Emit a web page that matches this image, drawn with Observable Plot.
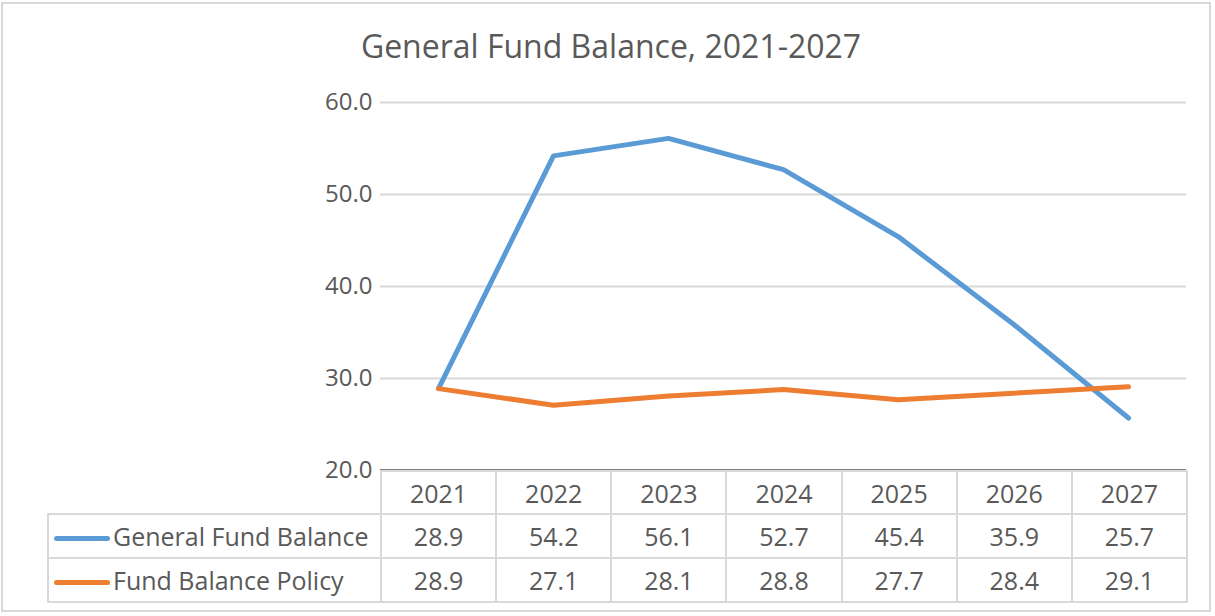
<!DOCTYPE html>
<html>
<head>
<meta charset="utf-8">
<script src="https://cdn.jsdelivr.net/npm/d3@7"></script>
<script src="https://cdn.jsdelivr.net/npm/@observablehq/plot@0.6"></script>
<style>
  html, body { margin: 0; padding: 0; background: #fff; }
  #wrap { position: relative; width: 1215px; height: 616px; overflow: hidden; font-family: "Open Sans", sans-serif; color: #595959; }
  #frame { position: absolute; left: 1px; top: 2px; width: 1210px; height: 610px; border: 2px solid #d9d9d9; box-sizing: border-box; }
  #title { position: absolute; left: 0; width: 1222px; top: 26px; text-align: center; font-size: 32px; line-height: 40px; color: #595959; }
  #chart { position: absolute; left: 0; top: 0; }
  #tbl { position: absolute; left: 47px; top: 470px; border-collapse: collapse; table-layout: fixed; font-size: 25px; color: #595959; }
  #tbl td { border: 2px solid #d9d9d9; padding: 0; text-align: center; white-space: nowrap; }
  #tbl td.empty { border: none; }
  #tbl td.leg { text-align: left; }
  .sw { display: inline-block; width: 56px; height: 5px; border-radius: 3px; vertical-align: middle; margin: 0 3px 0 5px; position: relative; top: -1px; }
</style>
</head>
<body>
<div id="wrap">
  <div id="frame"></div>
  <div id="title">General Fund Balance, 2021-2027</div>
  <div id="chart"></div>
  <table id="tbl"></table>
</div>
<script>
const years = [2021, 2022, 2023, 2024, 2025, 2026, 2027];
const generalFundBalance = [28.9, 54.2, 56.1, 52.7, 45.4, 35.9, 25.7];
const fundBalancePolicy = [28.9, 27.1, 28.1, 28.8, 27.7, 28.4, 29.1];
const seriesNames = ["General Fund Balance", "Fund Balance Policy"];
const seriesColors = ["#5b9bd5", "#ed7d31"];
const yTicks = [20, 30, 40, 50, 60];

const seriesValues = [generalFundBalance, fundBalancePolicy];
const data = seriesValues.flatMap((vals, si) =>
  vals.map((v, i) => ({ year: years[i], value: v, series: seriesNames[si] })));

const plot = Plot.plot({
  width: 1215,
  height: 616,
  marginLeft: 380,
  marginRight: 29,
  marginTop: 102,
  marginBottom: 146,
  style: { fontFamily: "Open Sans, sans-serif", fontSize: "24px", color: "#595959", background: "transparent" },
  x: { type: "point", domain: years, padding: 0.5, axis: null },
  y: { domain: [20, 60], axis: null },
  color: { domain: seriesNames, range: seriesColors },
  marks: [
    Plot.ruleY(yTicks.slice(1), { stroke: "#d9d9d9", strokeWidth: 2 }),
    Plot.axisY({ ticks: yTicks, tickFormat: d => d.toFixed(1), tickSize: 0, tickPadding: 8, fontSize: 24, fill: "#595959", label: null }),
    Plot.ruleY([20], { stroke: "#7f7f7f", strokeWidth: 3 }),
    Plot.line(data, { x: "year", y: "value", z: "series", stroke: "series", strokeWidth: 5, strokeLinecap: "round", strokeLinejoin: "round" })
  ]
});
document.getElementById("chart").appendChild(plot);

// data table
const tbl = document.getElementById("tbl");
const colW = 806 / years.length;
const cg = document.createElement("colgroup");
[333, ...years.map(() => colW)].forEach(w => {
  const c = document.createElement("col"); c.style.width = w + "px"; cg.appendChild(c);
});
tbl.appendChild(cg);
const hr = document.createElement("tr"); hr.style.height = "43px";
const e = document.createElement("td"); e.className = "empty"; hr.appendChild(e);
years.forEach(y => { const td = document.createElement("td"); td.textContent = y; hr.appendChild(td); });
tbl.appendChild(hr);
seriesValues.forEach((vals, si) => {
  const tr = document.createElement("tr"); tr.style.height = "44px";
  const lg = document.createElement("td"); lg.className = "leg";
  const sw = document.createElement("span"); sw.className = "sw"; sw.style.background = seriesColors[si];
  lg.appendChild(sw); lg.appendChild(document.createTextNode(seriesNames[si]));
  tr.appendChild(lg);
  vals.forEach(v => { const td = document.createElement("td"); td.textContent = v.toFixed(1); tr.appendChild(td); });
  tbl.appendChild(tr);
});
</script>
</body>
</html>
